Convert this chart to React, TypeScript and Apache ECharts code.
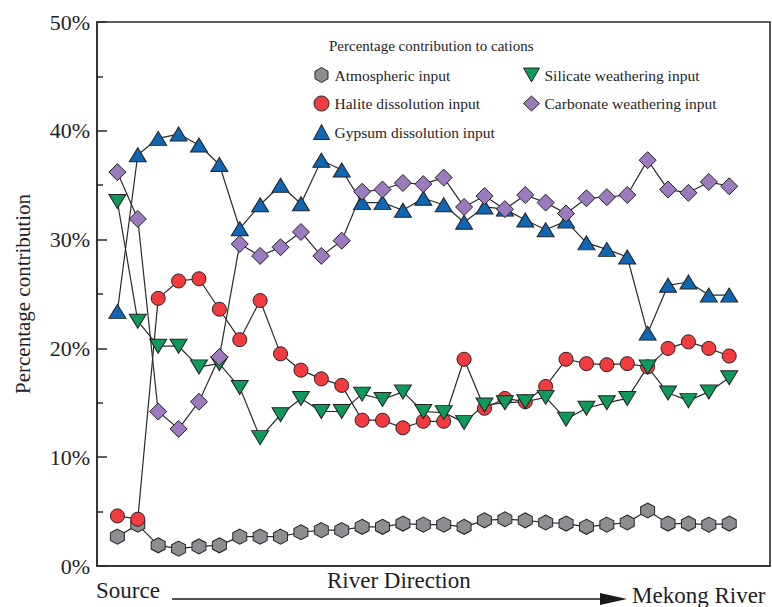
import { useEffect, useRef } from "react";
import * as echarts from "echarts";

// Percentage contribution of each source to dissolved cations, station by station from source to mouth
const atmospheric = [2.7, 3.8, 1.9, 1.6, 1.8, 1.9, 2.7, 2.7, 2.7, 3.1, 3.3, 3.3, 3.6, 3.6, 3.9, 3.8, 3.8, 3.6, 4.2, 4.3, 4.2, 4.0, 3.9, 3.6, 3.8, 4.0, 5.1, 3.9, 3.9, 3.8, 3.9];
const halite = [4.6, 4.3, 24.6, 26.2, 26.4, 23.6, 20.8, 24.4, 19.5, 18.0, 17.2, 16.6, 13.4, 13.4, 12.7, 13.3, 13.3, 19.0, 14.5, 15.4, 15.1, 16.5, 19.0, 18.6, 18.5, 18.6, 18.3, 20.0, 20.6, 20.0, 19.3];
const gypsum = [23.4, 37.8, 39.3, 39.7, 38.7, 36.9, 31.0, 33.2, 35.0, 33.3, 37.3, 36.4, 33.4, 33.4, 32.7, 33.8, 33.2, 31.6, 33.0, 32.8, 31.8, 30.9, 31.7, 29.7, 29.1, 28.4, 21.4, 25.8, 26.1, 24.9, 24.9];
const silicate = [33.5, 22.5, 20.2, 20.2, 18.3, 18.6, 16.4, 11.8, 13.9, 15.4, 14.2, 14.2, 15.8, 15.3, 16.0, 14.2, 14.1, 13.2, 14.8, 15.0, 15.1, 15.5, 13.5, 14.5, 15.0, 15.4, 18.3, 15.9, 15.2, 16.0, 17.3];
const carbonate = [36.2, 31.9, 14.2, 12.6, 15.1, 19.2, 29.6, 28.5, 29.3, 30.7, 28.5, 29.9, 34.4, 34.6, 35.2, 35.1, 35.7, 33.0, 34.0, 32.8, 34.1, 33.4, 32.4, 33.8, 33.9, 34.1, 37.3, 34.6, 34.3, 35.3, 34.9];

const seriesNames = [
  "Atmospheric input",
  "Halite dissolution input",
  "Gypsum dissolution input",
  "Silicate weathering input",
  "Carbonate weathering input",
];

const SERIF = "Liberation Serif";
const FRAME = "#2b2b2b";
const HEXAGON = "path://M0.866,0 L1.732,0.5 L1.732,1.5 L0.866,2 L0,1.5 L0,0.5 Z";
const DOWN_TRIANGLE = "path://M0,0 L2,0 L1,1.732 Z";

type Spec = { name: string; values: number[]; color: string; symbol: string; size: number | number[] };

const specs: Spec[] = [
  { name: seriesNames[0], values: atmospheric, color: "#8d8e92", symbol: HEXAGON, size: [14, 15] },
  { name: seriesNames[2], values: gypsum, color: "#0f66b2", symbol: "triangle", size: [17, 14] },
  { name: seriesNames[1], values: halite, color: "#f23b3e", symbol: "circle", size: 14 },
  { name: seriesNames[3], values: silicate, color: "#0e9a5b", symbol: DOWN_TRIANGLE, size: [17, 14] },
  { name: seriesNames[4], values: carbonate, color: "#9b7bbd", symbol: "diamond", size: 17 },
];

const iconOf = (name: string) => specs.find((p) => p.name === name)!.symbol;

export default function App() {
  const ref = useRef<HTMLDivElement>(null);

  useEffect(() => {
    if (!ref.current) return;
    const chart = echarts.init(ref.current, undefined, { renderer: "svg" });

    const legendText = { fontFamily: SERIF, fontSize: 15.5, color: "#1e1e24" };
    const bottomText = { fontFamily: SERIF, fontSize: 23, fill: "#1e1e24" };
    const legendBase = {
      orient: "vertical",
      top: 67,
      padding: 0,
      itemWidth: 16,
      itemHeight: 15,
      itemGap: 12.5,
      itemStyle: { borderColor: "#222", borderWidth: 1 },
      textStyle: legendText,
      selectedMode: false,
    };

    chart.setOption({
      animation: false,
      backgroundColor: "#ffffff",
      textStyle: { fontFamily: SERIF },
      title: {
        text: "Percentage contribution to cations",
        left: 329,
        top: 38,
        padding: 0,
        textStyle: { fontFamily: SERIF, fontSize: 15, fontWeight: "normal", color: "#1e1e24" },
      },
      legend: [
        {
          ...legendBase,
          left: 313,
          data: [seriesNames[0], seriesNames[1], seriesNames[2]].map((n) => ({ name: n, icon: iconOf(n) })),
        },
        {
          ...legendBase,
          left: 523,
          data: [seriesNames[3], seriesNames[4]].map((n) => ({ name: n, icon: iconOf(n) })),
        },
      ],
      grid: {
        left: 97,
        top: 22,
        right: 2,
        bottom: 41,
        show: true,
        borderColor: FRAME,
        borderWidth: 1.6,
        backgroundColor: "transparent",
      },
      xAxis: {
        type: "value",
        min: -1,
        max: 32,
        axisLine: { show: true, onZero: false, lineStyle: { color: FRAME, width: 1.6 } },
        axisTick: { show: false },
        axisLabel: { show: false },
        splitLine: { show: false },
      },
      yAxis: {
        type: "value",
        min: 0,
        max: 50,
        interval: 10,
        name: "Percentage contribution",
        nameLocation: "middle",
        nameRotate: 90,
        nameGap: 64,
        nameTextStyle: { fontFamily: SERIF, fontSize: 21, color: "#1e1e24" },
        axisLine: { show: true, onZero: false, lineStyle: { color: FRAME, width: 1.6 } },
        axisTick: { show: true, inside: true, length: 10, lineStyle: { color: FRAME, width: 1.5 } },
        minorTick: { show: true, splitNumber: 2, length: 6, lineStyle: { color: FRAME, width: 1.5 } },
        axisLabel: {
          show: true,
          inside: false,
          margin: 7,
          fontFamily: SERIF,
          fontSize: 22,
          color: "#1e1e24",
          formatter: "{value}%",
        },
        splitLine: { show: false },
        minorSplitLine: { show: false },
      },
      series: specs.map((s) => ({
        name: s.name,
        type: "line",
        data: s.values.map((v, i) => [i, v]),
        symbol: s.symbol,
        symbolSize: s.size,
        showAllSymbol: true,
        lineStyle: { color: "#2a2a2a", width: 1.2 },
        itemStyle: { color: s.color, borderColor: "#222", borderWidth: 1 },
        emphasis: { disabled: true },
      })),
      graphic: [
        { type: "text", left: 96, top: 579, style: { text: "Source", ...bottomText } },
        { type: "text", left: 327, top: 569, style: { text: "River Direction", ...bottomText } },
        { type: "text", left: 632, top: 584, style: { text: "Mekong River", ...bottomText } },
        {
          type: "line",
          shape: { x1: 172, y1: 599, x2: 604, y2: 599 },
          style: { stroke: "#1a1a1a", lineWidth: 1.6 },
        },
        {
          type: "polygon",
          shape: { points: [[600, 593], [627, 599], [600, 605]] },
          style: { fill: "#1a1a1a" },
        },
      ],
    });

    return () => chart.dispose();
  }, []);

  return (
    <div
      ref={ref}
      style={{ position: "fixed", left: 0, top: 0, width: 772, height: 607, background: "#fff" }}
    />
  );
}
